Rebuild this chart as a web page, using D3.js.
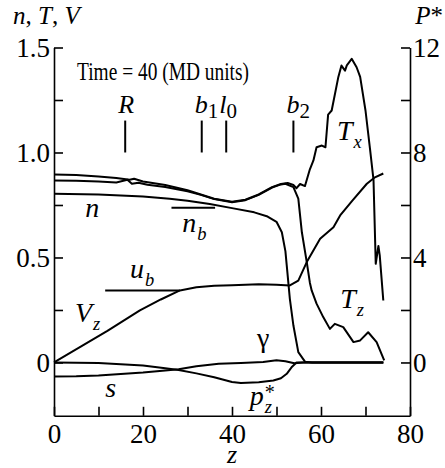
<!DOCTYPE html>
<html><head><meta charset="utf-8">
<script src="https://cdn.jsdelivr.net/npm/d3@7"></script>
<style>
html,body{margin:0;padding:0;background:#fff;}
</style></head><body>
<svg id="chart" width="445" height="468"></svg>
<script>
// ---- data (z, value) ----
const txZ = [0,5,10,14,17,18,20,25,30,33,36,40,43,46,49,51,52.5,53.8,54.5,55.3,56.4,57.5,58.3,59,60.2,61,61.6,62.4,63.9,64.6,65.4,65.8,66.9,68,68.8,70,71,71.8,72.3,72.9,73.2,74];
const txV = [0.895,0.893,0.886,0.878,0.870,0.875,0.862,0.845,0.820,0.800,0.780,0.765,0.775,0.800,0.835,0.850,0.855,0.845,0.830,0.850,0.840,0.920,0.962,1.025,1.033,1.025,1.180,1.200,1.360,1.414,1.390,1.415,1.446,1.406,1.360,1.200,1.020,0.870,0.470,0.555,0.510,0.295];
const tzZ = [0,5,10,14,16.5,17.5,19,21,25,30,33,36,40,43,46,49,51,52,53.8,54.9,55.7,56.8,57.5,57.9,59,60.5,62,63.1,65,67.3,68.8,70.6,72.5,74.2];
const tzV = [0.867,0.866,0.862,0.857,0.870,0.851,0.856,0.846,0.836,0.815,0.798,0.778,0.763,0.773,0.798,0.833,0.848,0.851,0.835,0.780,0.620,0.478,0.380,0.343,0.280,0.216,0.160,0.184,0.168,0.097,0.105,0.144,0.097,0.010];
const nZ = [0,10,20,26,30,35,40,45,48,50,51.2,52,52.3,53,53.8,54.9,56.4,58,74];
const nV = [0.803,0.800,0.790,0.780,0.770,0.755,0.735,0.715,0.695,0.670,0.620,0.530,0.462,0.303,0.176,0.049,0.004,0,0];
const vzZ = [0,6,12,19.3,24,28.3,32,36,40,46,50,53,54.9,56.8,59.8,62.8,64.3,67,70.3,72,74];
const vzV = [0,0.075,0.150,0.248,0.300,0.343,0.358,0.365,0.368,0.373,0.370,0.367,0.390,0.478,0.589,0.644,0.700,0.770,0.851,0.880,0.900];
const sZ = [0,5,10,15,20,25,28,32,37,42,47,50,52,54,56,74];
const sV = [-0.067,-0.066,-0.062,-0.055,-0.048,-0.038,-0.032,-0.018,-0.006,-0.003,0.002,0.010,0.006,-0.004,0,0];
const pzZ = [0,5,10,15,20,25,28,32,36,40,42,46,49.3,51,52.3,53.5,54.5,74];
const pzV = [0,-0.001,-0.003,-0.008,-0.015,-0.028,-0.036,-0.052,-0.070,-0.093,-0.098,-0.094,-0.086,-0.075,-0.054,-0.020,0,0];
// reference bars
const ubZ = [11.5, 28.3], ubV = 0.343;
const nbZ = [26.4, 36.2], nbV = 0.737;
// markers
const markerNames = ["R","b","l","b"];
const markerSubs  = ["","1","0","2"];
const markerZ     = [16, 33.2, 38.7, 53.8];
// ticks
const leftMajor = [0,0.5,1.0,1.5], leftMinor = [0.25,0.75,1.25];
const rightMajor = [0,4,8,12], rightMinor = [2,6,10];
const xMajor = [0,20,40,60,80], xMinor = [10,30,50,70];

const SERIF = "'Liberation Serif'";
const svg = d3.select("#chart");
const x = d3.scaleLinear().domain([0,80]).range([54,410]);
const y = d3.scaleLinear().domain([-0.254,1.5]).range([415.8,47.5]);
const yR = d3.scaleLinear().domain([-0.254*8,12]).range([415.8,47.5]);
const TICK = 27;

function txt(sel, size, italic){
  return sel.style("font-family",SERIF).style("font-size",size+"px").style("font-style",italic?"italic":"normal").attr("fill","#000");
}
function styleAxis(g){
  g.selectAll("path.domain").attr("stroke","#000").attr("stroke-width",1.6);
  g.selectAll(".tick line").attr("stroke","#000").attr("stroke-width",1.6);
  txt(g.selectAll(".tick text"), TICK, false);
}
const fmtL = d => d===0 ? "0" : d3.format(".1f")(d);
svg.append("g").attr("transform","translate(54,0)")
  .call(d3.axisLeft(y).tickValues([...leftMajor,...leftMinor]).tickSizeInner(-9).tickSizeOuter(0).tickPadding(4)
    .tickFormat(d => leftMajor.includes(d) ? fmtL(d) : ""))
  .call(styleAxis);
svg.append("g").attr("transform","translate(410,0)")
  .call(d3.axisRight(yR).tickValues([...rightMajor,...rightMinor]).tickSizeInner(-9).tickSizeOuter(0).tickPadding(3)
    .tickFormat(d => rightMajor.includes(d) ? String(d) : ""))
  .call(styleAxis);
svg.append("g").attr("transform","translate(0,415.8)")
  .call(d3.axisBottom(x).tickValues([...xMajor,...xMinor]).tickSizeInner(-9).tickSizeOuter(0).tickPadding(8)
    .tickFormat(d => xMajor.includes(d) ? String(d) : ""))
  .call(styleAxis);

// curves
const line = d3.line().x(d=>x(d[0])).y(d=>y(d[1]));
const series = [[txZ,txV],[tzZ,tzV],[nZ,nV],[vzZ,vzV],[sZ,sV],[pzZ,pzV]];
series.forEach(([zs,vs]) => {
  svg.append("path").datum(zs.map((z,i)=>[z,vs[i]]))
    .attr("d",line).attr("fill","none").attr("stroke","#000")
    .attr("stroke-width",2).attr("stroke-linejoin","round");
});
// horizontal bars
[[ubZ,ubV],[nbZ,nbV]].forEach(([zz,v]) => {
  svg.append("line").attr("x1",x(zz[0])).attr("x2",x(zz[1])).attr("y1",y(v)).attr("y2",y(v))
    .attr("stroke","#000").attr("stroke-width",2);
});
// markers
markerZ.forEach((z,i) => {
  svg.append("line").attr("x1",x(z)).attr("x2",x(z)).attr("y1",y(1.0)).attr("y2",y(1.152))
    .attr("stroke","#000").attr("stroke-width",2);
  const t = txt(svg.append("text"), 26, false).attr("x",x(z)-7).attr("y",113);
  txt(t.append("tspan"), 26, true).text(markerNames[i]);
  if (markerSubs[i]) txt(t.append("tspan"), 21, false).attr("dy",5).text(markerSubs[i]);
});

// generic label with optional subscript / superscript
function label(px,py,main,sub,sup,size,upright){
  const t = txt(svg.append("text"), size, !upright).attr("x",px).attr("y",py).text(main);
  const w = t.node().getComputedTextLength();
  if (sup) txt(svg.append("text"), size*0.72, false).attr("x",px+w+1).attr("y",py-size*0.22).text(sup);
  if (sub) txt(svg.append("text"), size*0.66, true).attr("x",px+w+1).attr("y",py+size*0.3).text(sub);
}
label(x(7.0), y(0.693), "n", null, null, 28);
label(x(28.8), y(0.621), "n", "b", null, 28);
label(x(17.1), y(0.402), "u", "b", null, 28);
label(x(4.7), y(0.193), "V", "z", null, 28);
label(x(63.6), y(1.06), "T", "x", null, 28);
label(x(64.3), y(0.26), "T", "z", null, 28);
label(x(45.6), y(0.074), "γ", null, null, 28, true);
label(x(11.5), y(-0.164), "s", null, null, 28);
label(x(44.0), y(-0.202), "p", "z", "*", 28);

// title
txt(svg.append("text"), 26, false).attr("x",77).attr("y",80)
  .attr("textLength",172).attr("lengthAdjust","spacingAndGlyphs").text("Time = 40 (MD units)");
// axis titles
const AT = 25;
const lt = txt(svg.append("text"), AT, false).attr("x",13).attr("y",24);
txt(lt.append("tspan"),AT,true).text("n");
txt(lt.append("tspan"),AT,false).text(", ");
txt(lt.append("tspan"),AT,true).text("T");
txt(lt.append("tspan"),AT,false).text(", ");
txt(lt.append("tspan"),AT,true).text("V");
const rt = txt(svg.append("text"), AT, false).attr("x",443).attr("y",24).attr("text-anchor","end");
txt(rt.append("tspan"),AT,true).text("P");
txt(rt.append("tspan"),AT,false).text("*");
txt(svg.append("text"), 26, true).attr("x",232).attr("y",463).attr("text-anchor","middle").text("z");
</script>
</body></html>
